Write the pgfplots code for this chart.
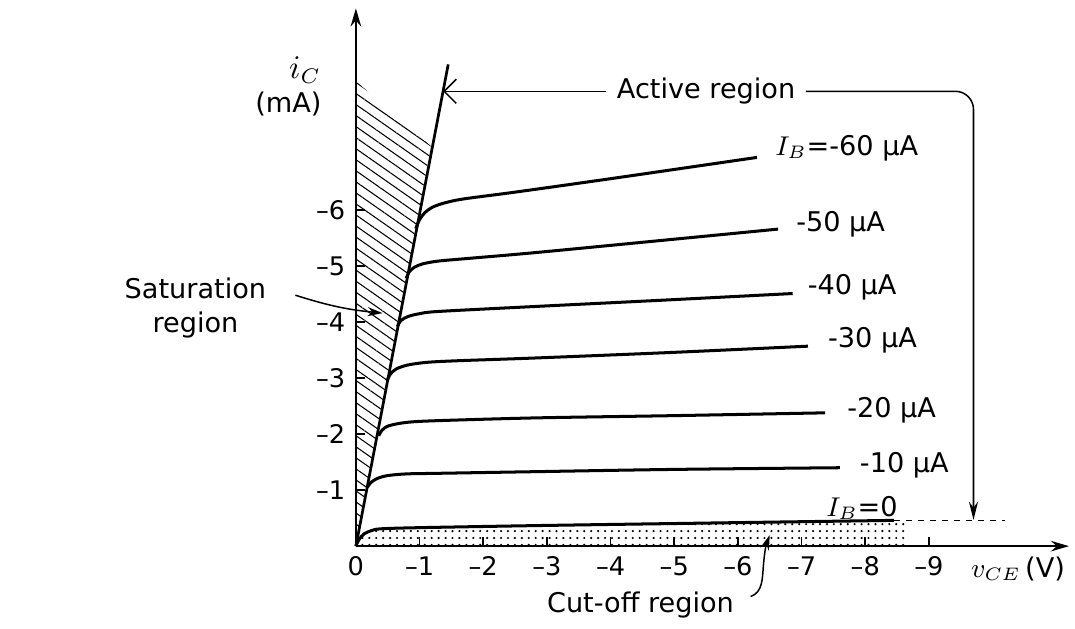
\documentclass[border=0pt]{standalone}
\usepackage{fontspec}
\setmainfont{DejaVu Sans}
\usepackage{pgfplots}
\pgfplotsset{compat=1.18}
\usetikzlibrary{patterns.meta,arrows.meta}

\begin{document}
\begin{tikzpicture}[font=\fontsize{9}{11}\selectfont]
\begin{axis}[
  x=21.12pt, y=18.58pt,
  x dir=reverse, y dir=reverse,
  xmin=-11.2, xmax=0, ymin=-9.6, ymax=0,
  axis lines=left,
  axis line style={line width=0.7pt, {Stealth[length=6pt,width=3.5pt]}-},
  tick align=inside,
  major tick length=3pt,
  tick style={line width=0.6pt, black},
  xtick={0,-1,-2,-3,-4,-5,-6,-7,-8,-9},
  xticklabels={0,–1,–2,–3,–4,–5,–6,–7,–8,–9},
  ytick={-1,-2,-3,-4,-5,-6},
  yticklabels={–1,–2,–3,–4,–5,–6},
  ticklabel style={font=\fontsize{8.5}{10}\selectfont},
  clip=false,
]
% picture extent
\path (axis cs:5.59,1.33) rectangle (axis cs:-11.2,-9.75);

% saturation region hatch
\addplot[draw=none, pattern={Lines[angle=-35,distance=3pt,line width=0.35pt]}]
  coordinates {(0,0) (0,-8.3) (-1.18,-7.14)} -- cycle;
% cut-off region stipple
\addplot[draw=none, pattern={Dots[distance=2.3pt,radius=0.4pt,xshift=0.6pt]}]
  coordinates {(0,0) (-0.05,-0.12) (-0.13,-0.22) (-0.25,-0.28) (-0.4,-0.31) (-1,-0.33) (-3,-0.37) (-6,-0.42) (-8.45,-0.46) (-8.65,-0.46) (-8.65,0)} -- cycle;

% active region boundary line
\addplot[black, line width=0.9pt] coordinates {(0,0) (-1.45,-8.6)};

% characteristic curves
\addplot[black, line width=1pt, smooth, tension=0.5] coordinates {
 (-0.94,-5.67) (-1.0,-5.83) (-1.08,-5.95) (-1.2,-6.05) (-1.4,-6.13) (-1.7,-6.2) (-2.5,-6.32) (-4,-6.56) (-6.3,-6.94)};
\addplot[black, line width=1pt, smooth, tension=0.5] coordinates {
 (-0.79,-4.78) (-0.84,-4.9) (-0.92,-4.98) (-1.05,-5.04) (-1.3,-5.09) (-1.8,-5.14) (-3,-5.26) (-6.63,-5.66)};
\addplot[black, line width=1pt, smooth, tension=0.5] coordinates {
 (-0.65,-3.92) (-0.71,-4.03) (-0.82,-4.1) (-1.0,-4.15) (-1.3,-4.19) (-2.84,-4.28) (-4.8,-4.39) (-6.86,-4.51)};
\addplot[black, line width=1pt, smooth, tension=0.5] coordinates {
 (-0.49,-2.95) (-0.54,-3.07) (-0.63,-3.16) (-0.8,-3.23) (-1.1,-3.28) (-1.6,-3.31) (-2.84,-3.36) (-5,-3.46) (-7.1,-3.57)};
\addplot[black, line width=1pt, smooth, tension=0.5] coordinates {
 (-0.36,-1.97) (-0.41,-2.07) (-0.52,-2.15) (-0.8,-2.21) (-1.28,-2.24) (-2.84,-2.29) (-5,-2.33) (-7.37,-2.38)};
\addplot[black, line width=1pt, smooth, tension=0.5] coordinates {
 (-0.18,-1.05) (-0.24,-1.14) (-0.34,-1.21) (-0.5,-1.26) (-0.8,-1.29) (-1.28,-1.30) (-2.84,-1.33) (-5,-1.37) (-7.6,-1.40)};
\addplot[black, line width=1pt, smooth, tension=0.5] coordinates {
 (0,0) (-0.05,-0.12) (-0.13,-0.22) (-0.25,-0.28) (-0.4,-0.31) (-1,-0.33) (-3,-0.37) (-6,-0.42) (-8.45,-0.46)};
% dashed continuation of I_B = 0
\addplot[black, line width=0.5pt, dash pattern=on 2pt off 2pt] coordinates {(-8.45,-0.46) (-10.19,-0.46)};

% curve labels
\node[anchor=west] at (axis cs:-6.42,-7.1) {$I_B$=-60 µA};
\node[anchor=west] at (axis cs:-6.75,-5.75) {-50 µA};
\node[anchor=west] at (axis cs:-6.93,-4.62) {-40 µA};
\node[anchor=west] at (axis cs:-7.25,-3.68) {-30 µA};
\node[anchor=west] at (axis cs:-7.55,-2.43) {-20 µA};
\node[anchor=west] at (axis cs:-7.75,-1.44) {-10 µA};
\node at (axis cs:-7.95,-0.68) {$I_B$=0};

% axis labels
\node at (axis cs:0.8,-8.5) {\fontsize{10.5}{12}\selectfont $i_C$};
\node at (axis cs:1.06,-7.89) {(mA)};
\node at (axis cs:-10.4,0.4) {$v_{CE}$\,(V)};

% active region annotation
\node (act) at (axis cs:-5.5,-8.12) {Active region};
\draw[line width=0.5pt, -{Straight Barb[length=4pt]}] (act.west) -- (axis cs:-1.37,-8.12);
\draw[line width=0.5pt, rounded corners=6pt, -{Stealth[length=6pt,width=3pt]}]
  (act.east) -- (axis cs:-9.7,-8.12) -- (axis cs:-9.7,-0.47);

% saturation region annotation
\node[align=center, inner sep=1pt] (sat) at (axis cs:2.52,-4.25) {Saturation\\region};
\draw[line width=0.5pt, -{Stealth[length=5pt,width=3pt]}] (axis cs:0.95,-4.48) to[bend right=6] (axis cs:-0.42,-4.16);

% cut-off region annotation
\node (cut) at (axis cs:-4.47,1.05) {Cut-off region};
\draw[line width=0.5pt, -{Stealth[length=5pt,width=3pt]}] (axis cs:-6.2,0.9) to[out=20,in=-95] (axis cs:-6.4,0.35) to[out=85,in=-110] (axis cs:-6.5,-0.2);
\end{axis}
\end{tikzpicture}
\end{document}
